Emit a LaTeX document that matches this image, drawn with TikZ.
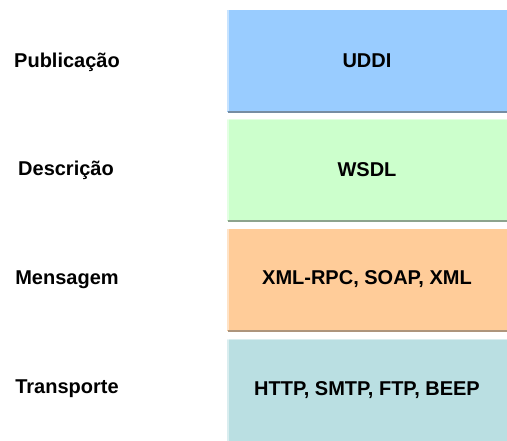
\documentclass[tikz,border=0pt]{standalone}
\usepackage{fontspec}
\setmainfont{Liberation Sans}
\usepackage{tikz}
\usetikzlibrary{positioning}
\definecolor{uddi}{RGB}{153, 204, 255}
\definecolor{wsdl}{RGB}{204, 255, 204}
\definecolor{msg}{RGB}{255, 204, 153}
\definecolor{transp}{RGB}{186, 223, 226}

\tikzset{
  layer/.style={inner sep=0pt, minimum width=280pt, minimum height=102pt,
    font=\fontsize{20}{24}\selectfont\bfseries},
  tag/.style={font=\fontsize{20}{24}\selectfont\bfseries},
  rim/.style={line width=1.6pt},
  glow/.style={line width=2pt, white, opacity=0.45}
}

\begin{document}
\begin{tikzpicture}[x=1pt, y=-1pt]
  \useasboundingbox[fill=white] (0,0) rectangle (507,440);

  % the four layers of the stack
  \node[layer, fill=uddi]   (pub)  at (367,60.5)  {UDDI};
  \node[layer, fill=wsdl]   (desc) at (367,170)   {WSDL};
  \node[layer, fill=msg]    (mens) at (367,279.5) {XML-RPC, SOAP, XML};
  \node[layer, fill=transp] (tran) at (367,390)   {HTTP, SMTP, FTP, BEEP};

  % darker lower rims and light left edges
  \draw[rim, uddi!55!black!80] ([xshift=1pt]pub.south west) -- (pub.south east);
  \draw[rim, wsdl!55!black!80] ([xshift=1pt]desc.south west) -- (desc.south east);
  \draw[rim, msg!60!black!80]  ([xshift=1pt]mens.south west) -- (mens.south east);
  \draw[glow] ([xshift=1pt]pub.north west) -- ([xshift=1pt,yshift=1pt]pub.south west);
  \draw[glow] ([xshift=1pt]desc.north west) -- ([xshift=1pt,yshift=1pt]desc.south west);
  \draw[glow] ([xshift=1pt]mens.north west) -- ([xshift=1pt,yshift=1pt]mens.south west);
  \draw[glow] ([xshift=1pt]tran.north west) -- ([xshift=1pt]tran.south west);
  \draw[glow] (pub.north west) -- (pub.north east);
  \draw[glow] (desc.north west) -- (desc.north east);
  \draw[glow] (mens.north west) -- (mens.north east);
  \draw[glow] (tran.north west) -- (tran.north east);

  % names of the layers
  \node[tag] (lpub)  at (67,62)  {Publicação};
  \node[tag] (ldesc) at (66,170) {Descrição};
  \node[tag] (lmens) at (67,280) {Mensagem};
  \node[tag] (ltran) at (67,389) {Transporte};
\end{tikzpicture}
\end{document}
